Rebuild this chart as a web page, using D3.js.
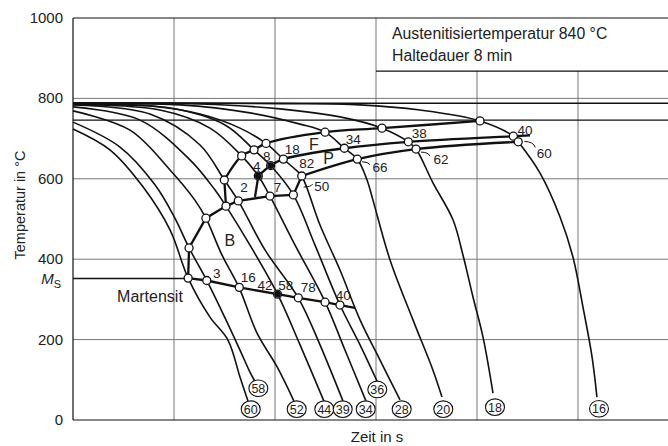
<!DOCTYPE html>
<html><head><meta charset="utf-8">
<script src="https://cdn.jsdelivr.net/npm/d3@7/dist/d3.min.js"></script>
<style>body{margin:0;background:#fff}svg{display:block}text{font-family:"Liberation Sans",Arial,sans-serif;fill:#222}</style>
</head><body><svg id="c" width="668" height="446"></svg>
<script>
// ---- data (time in s, temperature in °C) ----
const yTicks = [0, 200, 400, 600, 800, 1000];
const tempAc3 = 788, tempAc1 = 746, tempMs = 352;
const boxBottomTemp = 868;
const curveLabels = ["60","58","52","44","39","34","36","28","20","18","16"];
const c60 = [[1,724],[2.32,672],[4.93,580],[9.13,473],[13.8,353],[22.7,256],[34.2,199],[45,107],[54,47]];
const c58 = [[1,741],[2.92,679],[6.48,585],[10.2,502],[14.1,428],[21.2,346],[32,254],[45,174],[56.5,119],[63,97]];
const c52 = [[1,769],[3.67,721],[9.13,622],[16.1,547],[20.7,502],[29.9,410],[44,330],[66.4,216],[105,132],[154,47]];
const c44 = [[1,779],[4.61,746],[14.4,647],[25.5,572],[32.7,532],[56.5,435],[106,313],[177,187],[305,47]];
const c39 = [[1,784],[5.78,761],[18.1,684],[31.5,597],[43.3,545],[79.6,423],[170,304],[279,187],[471,47]];
const c34 = [[1,785],[7.27,771],[22.7,726],[46.8,657],[68.4,607],[89.2,557],[158,435],[313,294],[493,174],[796,47]];
const c36 = [[1,786],[9.13,776],[32,734],[62,672],[90.6,633],[152,560],[249,435],[440,286],[695,187],[1023,97]];
const c28 = [[1,785],[5.78,781],[18.1,761],[45,726],[81.5,688],[121,649],[161,622],[184,607],[279,485],[440,373],[695,249],[1096,149],[1730,50]];
const c20 = [[1,786],[11.5,784],[56.5,764],[177,736],[313,716],[486,676],[653,649],[815,597],[933,547],[1377,398],[2323,249],[3664,124],[4500,57]];
const c18 = [[1,787],[18.1,786],[112,774],[440,754],[1146,726],[2089,692],[2489,674],[3664,590],[5783,498],[7268,410],[9125,306],[11470,206],[14400,67]];
const c16 = [[1,789],[112,787],[695,784],[2729,771],[10700,744],[22900,706],[25600,692],[42100,614],[66400,505],[89200,405],[112000,281],[137700,157],[154000,57]];
const endCircles = [["60",57.5,27],["58",68.4,79],["52",164,27],["44",308,27],["39",468,27],["34",791,27],["36",1030,76],["28",1796,27],["20",4636,27],["18",15070,32],["16",161400,28]];
// transformation lines
const ferriteStart = [[31.5,597],[46.8,657],[62,672],[81.5,688],[313,716],[1146,726],[10700,744]];
const pearliteStart = [[68.4,607],[90.6,633],[121,649],[486,676],[2089,692],[22900,706],[33500,708]];
const pearliteEnd = [[184,607],[653,649],[2489,674],[25600,692]];
const bainiteStart = [[13.8,353],[14.1,428],[20.7,502],[32.7,532],[43.3,545],[89.2,557],[152,560]];
const lowerLine = [[13.8,353],[21.1,347],[44.3,330],[106,313],[170,304],[313,293],[440,286],[620,279]];
const noseLine = [[31.5,597],[32.7,532]];
const midLine = [[68.4,607],[63.4,555]];
const rightLine = [[152,560],[184,607]];
const filledPts = [[90.6,633],[68.4,607],[106,313]];
// labels [text, t, T]
const phaseLabels = [["2",49.3,579],["4",65.9,632],["7",106,579],["8",82.8,657],["18",148,673],["34",596,698],["38",2684,713],["40",29900,721],["82",206,639],["66",1096,630],["62",4402,649],["60",46400,663],["50",290,582],["3",26.5,365],["16",54.4,355],["42",79.6,336],["58",128,336],["78",214,332],["40",475,311]];
const regionLabels = [["F",243,687],["P",340,652],["B",35.8,448]];
const leaderLabels = [["66",1096,630],["62",4402,649],["60",46400,663],["50",290,582]];

// ---- drawing ----
const svg = d3.select("#c");
const x = d3.scaleLog().domain([1,1e6]).range([73,679]);
const y = d3.scaleLinear().domain([0,1000]).range([420,18]);
const xR = 668;
const grid = svg.append("g").attr("stroke","#777").attr("stroke-width",1);
[200,400,600,800].forEach(v=>grid.append("line").attr("x1",73).attr("x2",xR).attr("y1",y(v)).attr("y2",y(v)));
[10,100,1000].forEach(v=>grid.append("line").attr("x1",x(v)).attr("x2",x(v)).attr("y1",y(1000)).attr("y2",y(0)));
[1e4,1e5].forEach(v=>grid.append("line").attr("x1",x(v)).attr("x2",x(v)).attr("y1",y(boxBottomTemp)).attr("y2",y(0)));
const frame = svg.append("g").attr("stroke","#111").attr("stroke-width",1.2);
frame.append("line").attr("x1",73).attr("x2",xR).attr("y1",y(1000)).attr("y2",y(1000));
frame.append("line").attr("x1",73).attr("x2",xR).attr("y1",y(0)).attr("y2",y(0));
frame.append("line").attr("x1",73).attr("x2",73).attr("y1",y(1000)).attr("y2",y(0));
frame.append("line").attr("x1",x(1000)).attr("x2",xR).attr("y1",y(boxBottomTemp)).attr("y2",y(boxBottomTemp));
frame.append("line").attr("x1",73).attr("x2",xR).attr("y1",y(tempAc3)).attr("y2",y(tempAc3)).attr("stroke-width",1.6);
frame.append("line").attr("x1",73).attr("x2",xR).attr("y1",y(tempAc1)).attr("y2",y(tempAc1)).attr("stroke-width",1.3);
frame.append("line").attr("x1",73).attr("x2",x(13.8)).attr("y1",y(tempMs)).attr("y2",y(tempMs)).attr("stroke-width",1.6);

// y tick labels
svg.append("g").selectAll("text").data(yTicks).join("text")
  .attr("x",63).attr("y",d=>y(d)+5).attr("text-anchor","end").attr("font-size",15).text(d=>d);
svg.append("text").attr("x",61).attr("y",y(tempMs)+6).attr("text-anchor","end").attr("font-size",15)
  .html('<tspan font-style="italic">M</tspan><tspan font-size="11" dy="4">S</tspan>');
svg.append("text").attr("transform","translate(25,205) rotate(-90)").attr("text-anchor","middle").attr("font-size",14.5).text("Temperatur in °C");
svg.append("text").attr("x",377).attr("y",442).attr("text-anchor","middle").attr("font-size",15).text("Zeit in s");
svg.append("text").attr("x",392).attr("y",39).attr("font-size",15.8).text("Austenitisiertemperatur 840 °C");
svg.append("text").attr("x",392).attr("y",61).attr("font-size",15.8).text("Haltedauer 8 min");

const line = d3.line().x(d=>x(d[0])).y(d=>y(d[1])).curve(d3.curveCatmullRom.alpha(0.5));
const lin = d3.line().x(d=>x(d[0])).y(d=>y(d[1]));
const curves = [c60,c58,c52,c44,c39,c34,c36,c28,c20,c18,c16];
svg.append("g").selectAll("path").data(curves).join("path").attr("d",line)
  .attr("fill","none").attr("stroke","#111").attr("stroke-width",1.6);
const tg = svg.append("g").attr("fill","none").attr("stroke","#111").attr("stroke-width",2.3);
[ferriteStart,pearliteStart,pearliteEnd].forEach(a=>tg.append("path").attr("d",line(a)));
[bainiteStart,lowerLine,noseLine,midLine,rightLine].forEach(a=>tg.append("path").attr("d",lin(a)));

// leaders
const offs = {"66":[-18,-5,-10,-2],"62":[-20,-7,-11,-3],"60":[-20,-12,-9,-6],"50":[-18,1,-9,-2]};
svg.append("g").selectAll("path").data(leaderLabels).join("path")
  .attr("d",d=>{const o=offs[d[0]],px=x(d[1]),py=y(d[2]);return `M${px+o[0]},${py+o[1]}Q${px+o[2]-2},${py+o[1]} ${px+o[2]},${py+o[3]}`;})
  .attr("fill","none").attr("stroke","#111").attr("stroke-width",1);

const pts = [].concat(ferriteStart.slice(0,7),pearliteStart.slice(0,6),pearliteEnd,bainiteStart.slice(1),lowerLine.slice(0,7));
svg.append("g").selectAll("circle").data(pts).join("circle").attr("cx",d=>x(d[0])).attr("cy",d=>y(d[1])).attr("r",4)
  .attr("fill","#fff").attr("stroke","#111").attr("stroke-width",1.3);
svg.append("g").selectAll("circle").data(filledPts).join("circle").attr("cx",d=>x(d[0])).attr("cy",d=>y(d[1])).attr("r",3.4).attr("fill","#111");

svg.append("g").selectAll("text").data(phaseLabels).join("text").attr("x",d=>x(d[1])).attr("y",d=>y(d[2])+5)
  .attr("text-anchor","middle").attr("font-size",13.5).text(d=>d[0]);
svg.append("g").selectAll("text").data(regionLabels).join("text").attr("x",d=>x(d[1])).attr("y",d=>y(d[2])+6)
  .attr("text-anchor","middle").attr("font-size",16).text(d=>d[0]);
svg.append("text").attr("x",x(5.78)).attr("y",y(306)+5).attr("text-anchor","middle").attr("font-size",16).text("Martensit");

const eg = svg.append("g").selectAll("g").data(endCircles).join("g").attr("transform",d=>`translate(${x(d[1])},${y(d[2])})`);
eg.append("ellipse").attr("rx",9.5).attr("ry",8.3).attr("fill","#fff").attr("stroke","#111").attr("stroke-width",1.1);
eg.append("text").attr("text-anchor","middle").attr("y",4.5).attr("font-size",12.5).text(d=>d[0]);
</script></body></html>
